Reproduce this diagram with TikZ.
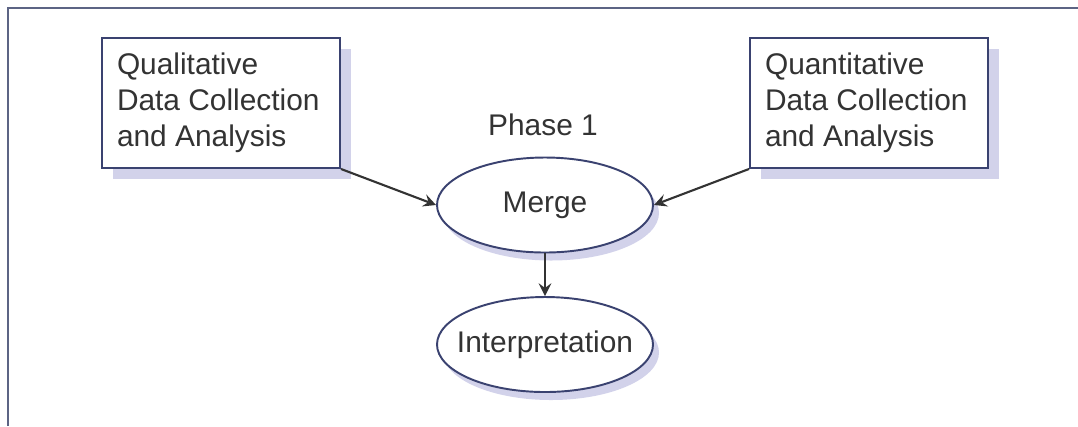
\documentclass[tikz,border=0pt]{standalone}
\usepackage{fontspec}
\setmainfont{Liberation Sans}
\usepackage{tikz}
\usetikzlibrary{shapes.geometric,arrows,positioning,shadows}

\definecolor{framec}{HTML}{5C6484}
\definecolor{linec}{HTML}{3A4270}
\definecolor{shadowc}{HTML}{D2D2EA}
\definecolor{textc}{HTML}{333333}

\begin{document}
\begin{tikzpicture}[
    font=\fontsize{8.5}{10.2}\selectfont,
    text=textc,
    box/.style={rectangle, draw=linec, line width=0.55pt, fill=white,
        minimum width=2.38cm, minimum height=1.30cm, text width=2.08cm,
        inner xsep=0.15cm, align=flush left,
        drop shadow={shadow xshift=0.11cm, shadow yshift=-0.11cm, fill=shadowc, opacity=1}},
    oval/.style={ellipse, draw=linec, line width=0.55pt, fill=white,
        minimum width=2.16cm, minimum height=0.95cm, inner xsep=-0.12cm, inner ysep=0pt,
        drop shadow={shadow xshift=0.06cm, shadow yshift=-0.08cm, fill=shadowc, opacity=1}},
    arrow/.style={->, >=stealth, draw=textc, line width=0.6pt}
]
    \useasboundingbox (0,0) rectangle (10.78,4.26);

    % Frame
    \draw[framec, line width=0.8pt] (0.08,0) -- (0.08,4.18) -- (10.78,4.18);

    % Top level
    \node[box] (qual) at (2.21,3.23) {Qualitative\\Data Collection\\and Analysis};
    \node[box] (quant) at (8.69,3.23) {Quantitative\\Data Collection\\and Analysis};
    \node (phase) at (5.43,3.01) {Phase 1};

    % Middle and bottom level
    \node[oval] (merge) at (5.45,2.21) {Merge};
    \node[oval] (interp) at (5.45,0.815) {Interpretation};

    % Arrows
    \draw[arrow] (qual.south east) -- (merge.west);
    \draw[arrow] (quant.south west) -- (merge.east);
    \draw[arrow] (merge) -- (interp);
\end{tikzpicture}
\end{document}
